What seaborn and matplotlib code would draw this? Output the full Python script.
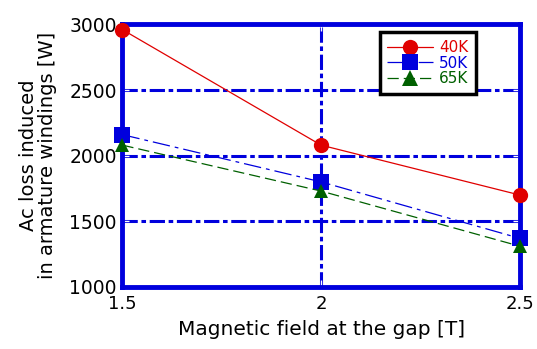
import matplotlib
matplotlib.use("Agg")
import matplotlib.pyplot as plt
import seaborn as sns
import pandas as pd
from matplotlib.ticker import MultipleLocator

field = [1.5, 2.0, 2.5]
loss_40k = [2960, 2080, 1700]
loss_50k = [2160, 1800, 1370]
loss_65k = [2080, 1730, 1310]
labels = ["40K", "50K", "65K"]
colors = ["#e00000", "#0000dd", "#006000"]

sns.set_theme(style="white")
plt.rcParams['font.family'] = ['DejaVu Sans']

rows = []
for lab, vals in zip(labels, [loss_40k, loss_50k, loss_65k]):
    for x, v in zip(field, vals):
        rows.append({"field": x, "loss": v, "temp": lab})
df = pd.DataFrame(rows)

fig, ax = plt.subplots(figsize=(5.37, 3.49), dpi=100)
fig.subplots_adjust(left=0.228, right=0.968, top=0.93, bottom=0.178)

styles = {"40K": dict(ls="-", marker="o", ms=11),
          "50K": dict(ls=(0, (14, 4, 3, 4)), marker="s", ms=11),
          "65K": dict(ls=(0, (9, 4)), marker="^", ms=10)}
for lab, c in zip(labels, colors):
    sub = df[df.temp == lab]
    st = styles[lab]
    sns.lineplot(data=sub, x="field", y="loss", ax=ax, color=c, lw=0.9,
                 linestyle=st["ls"], marker=st["marker"], markersize=st["ms"],
                 markeredgewidth=0, label=lab, zorder=5, clip_on=False)

ax.set_xlim(1.5, 2.5)
ax.set_ylim(1000, 3000)
ax.set_xticks([1.5, 2.0, 2.5])
ax.set_xticklabels(["1.5", "2", "2.5"])
ax.set_yticks([1000, 1500, 2000, 2500, 3000])
ax.yaxis.set_minor_locator(MultipleLocator(100))
ax.xaxis.set_minor_locator(MultipleLocator(0.05))
ax.set_axisbelow(True)
ax.grid(True, which="major", color="#0000dd", lw=2.2, ls=(0, (5, 1.2, 1.5, 1.2)), zorder=1)
for s in ax.spines.values():
    s.set_color("#0000dd")
    s.set_linewidth(3.5)
ax.tick_params(which="both", direction="in", color="white", labelsize=13.5,
               labelcolor="black", top=True, right=True, left=True, bottom=True)
ax.tick_params(which="major", length=5, width=1)
ax.tick_params(which="minor", length=4, width=1)
ax.tick_params(axis="x", pad=6, labelsize=13)
ax.tick_params(axis="y", pad=4)
ax.set_xlabel("Magnetic field at the gap [T]", fontsize=14.5, color="black", labelpad=5)
ax.set_ylabel("Ac loss induced\nin armature windings [W]", fontsize=14, color="black",
              linespacing=1.0, labelpad=9)

leg = ax.legend(loc="upper right", bbox_to_anchor=(0.89, 0.97), borderaxespad=0,
                fontsize=11, frameon=True, fancybox=False, framealpha=1,
                handlelength=3.0, borderpad=0.5, labelspacing=0.05, handletextpad=0.4)
leg.get_frame().set_edgecolor("black")
leg.get_frame().set_linewidth(2.5)
leg.set_zorder(10)
for t, c in zip(leg.get_texts(), colors):
    t.set_color(c)
for h in leg.legend_handles:
    h.set_markersize(11)

fig.savefig("out.png", dpi=100)
